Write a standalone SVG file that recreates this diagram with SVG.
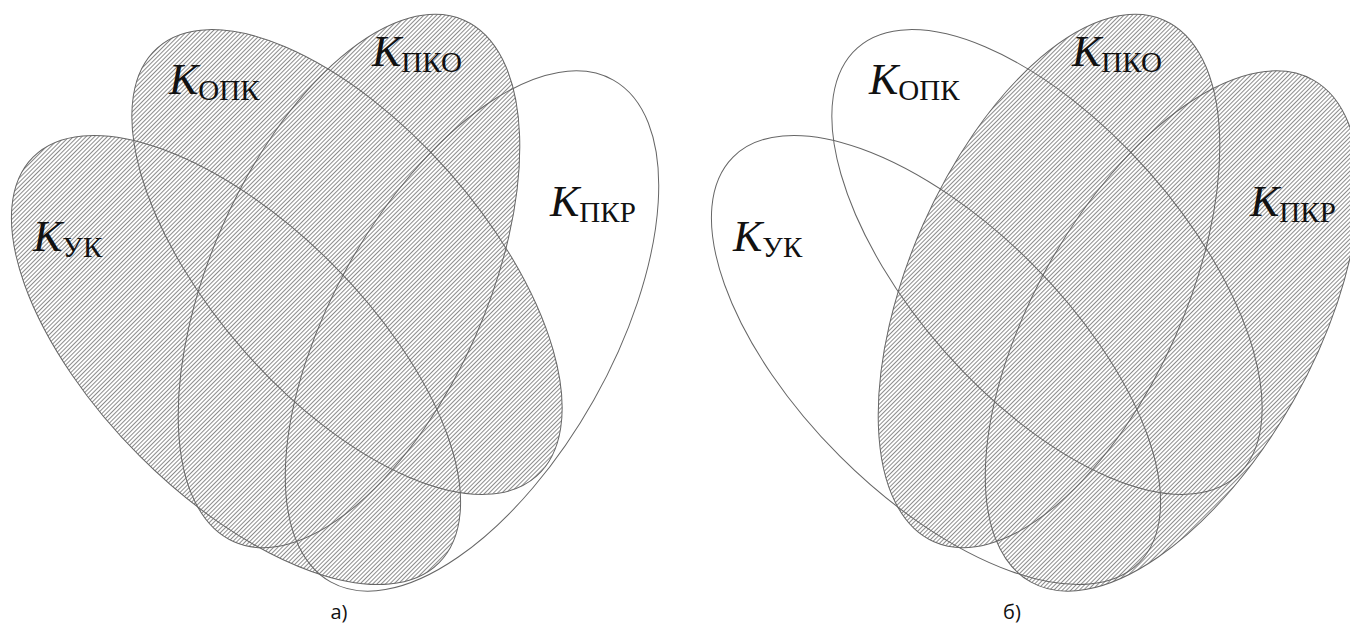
<svg xmlns="http://www.w3.org/2000/svg" width="1350" height="628" viewBox="0 0 1350 628">
<style>
.ol{fill:none;stroke:#666;stroke-width:1}
.k{font-family:"Liberation Serif","Times New Roman",serif;font-size:44px;fill:#111}
.k .i{font-style:italic}
.k .s{font-size:29px}
.cap{font-family:"Open Sans","Noto Sans",sans-serif;font-size:20px;fill:#111}
</style>
<defs>
<pattern id="hatch" patternUnits="userSpaceOnUse" width="10" height="3" patternTransform="rotate(-45)">
<line x1="0" y1="1.5" x2="10" y2="1.5" stroke="#777" stroke-width="0.85"/>
</pattern>
<ellipse id="eUK" cx="236" cy="360" rx="287" ry="136" transform="rotate(45 236 360)"/>
<ellipse id="eOPK" cx="347" cy="262" rx="286" ry="136" transform="rotate(48.5 347 262)"/>
<ellipse id="ePKO" cx="349" cy="281" rx="285" ry="138" transform="rotate(-66.2 349 281)"/>
<ellipse id="ePKR" cx="472" cy="331" rx="288" ry="140" transform="rotate(-60.6 472 331)"/>
<clipPath id="clipA">
<use href="#eUK"/><use href="#eOPK"/><use href="#ePKO"/>
</clipPath>
<clipPath id="clipB">
<use href="#ePKO" x="700"/><use href="#ePKR" x="700"/>
</clipPath>
</defs>
<rect width="1350" height="628" fill="#fff"/>

<g id="fig-a">
<rect x="0" y="0" width="675" height="628" fill="url(#hatch)" clip-path="url(#clipA)"/>
<g id="a-UK"><use href="#eUK" class="ol"/><text class="k" x="33" y="251"><tspan class="i">K</tspan><tspan class="s" dy="6">УК</tspan></text></g>
<g id="a-OPK"><use href="#eOPK" class="ol"/><text class="k" x="169" y="94"><tspan class="i">K</tspan><tspan class="s" dy="6">ОПК</tspan></text></g>
<g id="a-PKO"><use href="#ePKO" class="ol"/><text class="k" x="372" y="66"><tspan class="i">K</tspan><tspan class="s" dy="6">ПКО</tspan></text></g>
<g id="a-PKR"><use href="#ePKR" class="ol"/><text class="k" x="550" y="216"><tspan class="i">K</tspan><tspan class="s" dy="6">ПКР</tspan></text></g>
<text class="cap" x="339" y="619" text-anchor="middle">а)</text>
</g>

<g id="fig-b">
<rect x="675" y="0" width="675" height="628" fill="url(#hatch)" clip-path="url(#clipB)"/>
<g id="b-UK"><use href="#eUK" x="700" class="ol"/><text class="k" x="733" y="251"><tspan class="i">K</tspan><tspan class="s" dy="6">УК</tspan></text></g>
<g id="b-OPK"><use href="#eOPK" x="700" class="ol"/><text class="k" x="869" y="94"><tspan class="i">K</tspan><tspan class="s" dy="6">ОПК</tspan></text></g>
<g id="b-PKO"><use href="#ePKO" x="700" class="ol"/><text class="k" x="1072" y="66"><tspan class="i">K</tspan><tspan class="s" dy="6">ПКО</tspan></text></g>
<g id="b-PKR"><use href="#ePKR" x="700" class="ol"/><text class="k" x="1250" y="216"><tspan class="i">K</tspan><tspan class="s" dy="6">ПКР</tspan></text></g>
<text class="cap" x="1012" y="619" text-anchor="middle">б)</text>
</g>
<g id="connectors"/>
</svg>
